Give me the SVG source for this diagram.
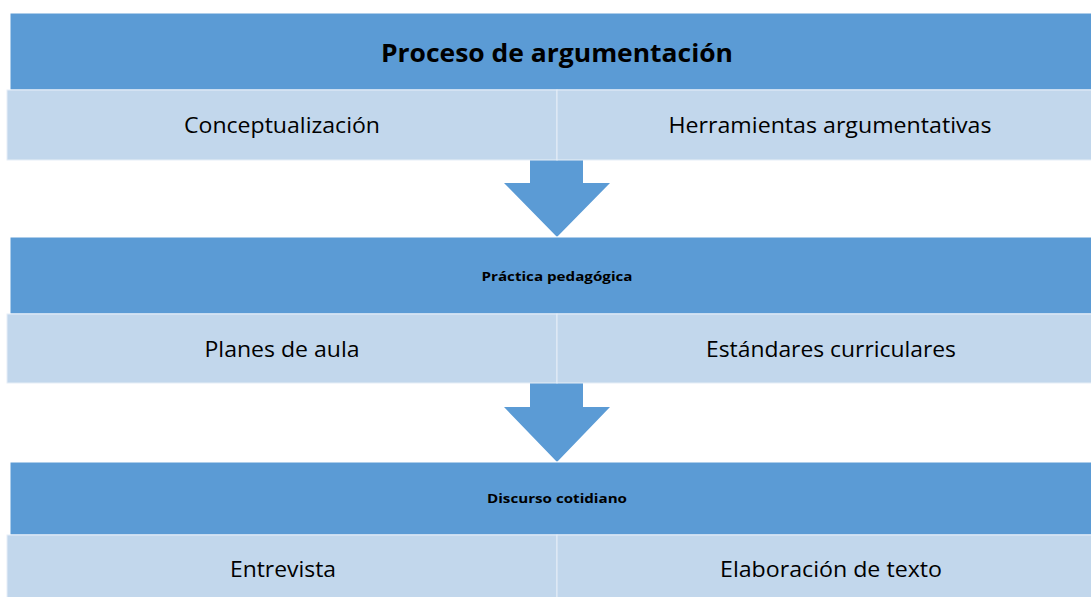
<svg xmlns="http://www.w3.org/2000/svg" width="1091" height="597" viewBox="0 0 1091 597">
<style>
.bar{fill:#5B9BD5;stroke:#FFFFFF;stroke-width:1}
.cell{fill:#C2D7EC;stroke:#E6EEF7;stroke-width:1}
.arrow{fill:#5B9BD5}
text{font-family:"Open Sans","Liberation Sans",sans-serif;fill:#000;text-anchor:middle}
.t1{font-size:25px;font-weight:bold}
.t2{font-size:13px;font-weight:bold}
.c{font-size:21px}
</style>
<rect width="1091" height="597" fill="#FFFFFF"/>
<g id="connectors">
<polygon class="arrow" points="530,160 583,160 583,183 610,183 557,237 504,183 530,183"/>
<polygon class="arrow" points="530,383 583,383 583,407 610,407 557,462 504,407 530,407"/>
</g>
<g id="header1">
<rect class="bar" x="10" y="13" width="1085" height="77"/>
<text class="t1" x="557" y="62" textLength="352" lengthAdjust="spacingAndGlyphs">Proceso de argumentación</text>
</g>
<g id="cell1a">
<rect class="cell" x="7" y="90" width="550" height="70"/>
<text class="c" x="282" y="133" textLength="196" lengthAdjust="spacingAndGlyphs">Conceptualización</text>
</g>
<g id="cell1b">
<rect class="cell" x="557" y="90" width="540" height="70"/>
<text class="c" x="830" y="133" textLength="323" lengthAdjust="spacingAndGlyphs">Herramientas argumentativas</text>
</g>
<g id="header2">
<rect class="bar" x="10" y="237" width="1085" height="77"/>
<text class="t2" x="557" y="281" textLength="151" lengthAdjust="spacingAndGlyphs">Práctica pedagógica</text>
</g>
<g id="cell2a">
<rect class="cell" x="7" y="314" width="550" height="69"/>
<text class="c" x="282" y="357" textLength="155" lengthAdjust="spacingAndGlyphs">Planes de aula</text>
</g>
<g id="cell2b">
<rect class="cell" x="557" y="314" width="540" height="69"/>
<text class="c" x="831" y="357" textLength="250" lengthAdjust="spacingAndGlyphs">Estándares curriculares</text>
</g>
<g id="header3">
<rect class="bar" x="10" y="462" width="1085" height="73"/>
<text class="t2" x="557" y="503" textLength="140" lengthAdjust="spacingAndGlyphs">Discurso cotidiano</text>
</g>
<g id="cell3a">
<rect class="cell" x="7" y="535" width="550" height="70"/>
<text class="c" x="283" y="577" textLength="106" lengthAdjust="spacingAndGlyphs">Entrevista</text>
</g>
<g id="cell3b">
<rect class="cell" x="557" y="535" width="540" height="70"/>
<text class="c" x="831" y="577" textLength="222" lengthAdjust="spacingAndGlyphs">Elaboración de texto</text>
</g>
</svg>
